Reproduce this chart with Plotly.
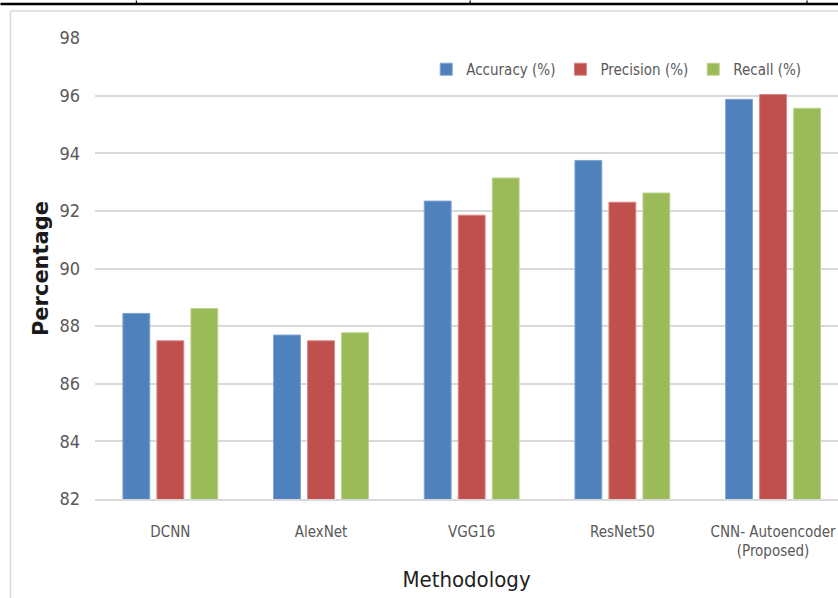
import plotly.graph_objects as go

# Data
methods = ["DCNN", "AlexNet", "VGG16", "ResNet50", "CNN- Autoencoder<br>(Proposed)"]
accuracy = [88.44, 87.69, 92.34, 93.75, 95.87]
precision = [87.49, 87.49, 91.85, 92.30, 96.04]
recall = [88.61, 87.77, 93.14, 92.62, 95.56]
y_ticks = [82, 84, 86, 88, 90, 92, 94, 96, 98]

W, H = 838, 598
L, R, T, B = 94.6, 0, 37.5, 99
PW, PH = W - L - R, H - T - B

NARROW = "DejaVu Sans Condensed, Liberation Sans Narrow, sans-serif"


def px_x(px):
    return (px - L) / PW


def px_y(py):
    return (H - B - py) / PH


fig = go.Figure()
series = [
    ("Accuracy (%)", accuracy, "#4f81bd", "#7fa3d1"),
    ("Precision (%)", precision, "#c0504d", "#d88583"),
    ("Recall (%)", recall, "#9bbb59", "#bcd38f"),
]
for name, vals, color, edge in series:
    fig.add_trace(go.Bar(
        x=methods, y=vals, name=name,
        marker=dict(color=color, line=dict(color=edge, width=1)),
    ))

shapes = []
# chart frame (left and top edges)
shapes.append(dict(type="line", xref="paper", yref="paper",
                   x0=px_x(10), x1=px_x(838), y0=px_y(10.5), y1=px_y(10.5),
                   line=dict(color="#d9d9d9", width=1.5)))
shapes.append(dict(type="line", xref="paper", yref="paper",
                   x0=px_x(10), x1=px_x(10), y0=px_y(10.5), y1=px_y(598),
                   line=dict(color="#d9d9d9", width=1.5)))
# table rule above the chart
shapes.append(dict(type="line", xref="paper", yref="paper",
                   x0=px_x(0), x1=px_x(838), y0=px_y(3.5), y1=px_y(3.5),
                   line=dict(color="#000000", width=2.5)))
for vx in (136, 470, 807):
    shapes.append(dict(type="line", xref="paper", yref="paper",
                       x0=px_x(vx), x1=px_x(vx), y0=px_y(0), y1=px_y(4),
                       line=dict(color="#000000", width=1.2)))

fig.update_layout(
    width=W, height=H,
    margin=dict(l=L, r=R, t=T, b=B, autoexpand=False),
    paper_bgcolor="white", plot_bgcolor="white",
    barmode="group", bargap=0.323, bargroupgap=0.21,
    showlegend=True,
    legend=dict(
        orientation="h", x=px_x(426), y=px_y(69), xanchor="left", yanchor="middle",
        font=dict(family=NARROW, size=15, color="#595959"),
        bgcolor="rgba(0,0,0,0)", itemwidth=30, traceorder="normal",
    ),
    shapes=shapes,
    xaxis=dict(
        range=[-0.5, 4.431],
        showgrid=False, zeroline=False,
        showline=True, linecolor="#d9d9d9", linewidth=1.5,
        ticks="", tickfont=dict(family=NARROW, size=15, color="#595959"),
        ticklabelstandoff=18,
        title=dict(text="Methodology", font=dict(family=NARROW, size=22, color="#1f1f1f"),
                   standoff=12),
    ),
    yaxis=dict(
        range=[82, 98], tickvals=y_ticks, ticktext=[str(v) for v in y_ticks],
        showgrid=True, gridcolor="#d9d9d9", gridwidth=1.5,
        zeroline=False, showline=False, ticks="",
        tickfont=dict(family=NARROW, size=18, color="#595959"),
        ticklabelstandoff=14,
        title=dict(text="<b>Percentage</b>",
                   font=dict(family="DejaVu Sans, Verdana, sans-serif", size=21, color="#1a1a1a"),
                   standoff=5),
    ),
)

fig.write_html("out.html")
